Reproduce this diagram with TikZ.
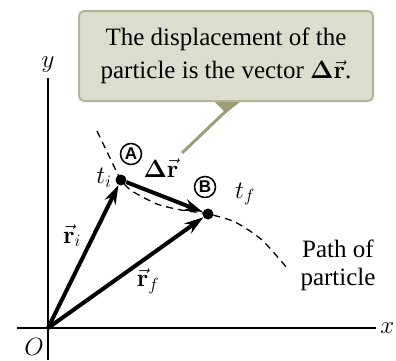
\documentclass[tikz,border=0pt]{standalone}
\usepackage{fix-cm}
\usepackage{amsmath}
\usepackage[no-math]{fontspec}
\setmainfont{Liberation Serif}
\setsansfont{Liberation Sans}
\usetikzlibrary{arrows.meta, positioning, calc}

\definecolor{notefill}{RGB}{221,221,205}
\definecolor{noteedge}{RGB}{180,180,152}
\definecolor{noteptr}{RGB}{158,158,118}

\tikzset{
    axis/.style={line width=2pt},
    vec/.style={line width=4pt, -{Stealth[length=19pt, width=12pt]}},
    dot/.style={circle, fill, inner sep=0pt, minimum size=11pt},
    posmark/.style={circle, draw, line width=1.5pt, inner sep=0pt, minimum size=21pt, font=\sffamily\bfseries\fontsize{17}{17}\selectfont},
    notebox/.style={draw=noteedge, line width=2pt, fill=notefill, rounded corners=5pt, minimum width=294pt, minimum height=90pt, align=center}
}

\begin{document}
\begin{tikzpicture}[x=1pt, y=-1pt, font=\fontsize{25}{33}\selectfont]
    \useasboundingbox (0,0) rectangle (396,360);

    % axes
    \coordinate (O) at (48,328);
    \draw[axis] (48,360) -- (48,78) node[above=1pt] {$y$};
    \draw[axis] (17,328) -- (376,328) node[right=0pt] {$x$};
    \node at (34,347) {$O$};

    % path of the particle
    \draw[dashed, line width=1.3pt, dash pattern=on 7pt off 5pt]
        plot[smooth, tension=0.45] coordinates {(97,131) (110,158) (121,180) (132,191) (157,204) (181,210) (208,214) (235,222) (262,240) (287,268)};
    \node[align=center, font=\fontsize{25}{28}\selectfont] at (338,265) {Path of\\particle};

    % points
    \node[dot] (A) at (121,180) {};
    \node[dot] (B) at (208,214) {};
    \node[posmark] at (131,154) {A};
    \node[posmark] at (205,187) {B};
    \node at (104,178) {$t_i$};
    \node at (245,194) {$t_f$};

    % vectors
    \draw[vec] (O) -- (A);
    \draw[vec] (O) -- (B);
    \draw[vec] (A) -- (B);
    \node at (72,236) {$\vec{\mathbf r}_i$};
    \node at (148,281) {$\vec{\mathbf r}_f$};
    \node at (161,168) {$\mathbf{\Delta}\vec{\mathbf r}$};

    % callout
    \node[notebox] (note) at (226,56) {The displacement of the\\particle is the vector $\mathbf{\Delta}\vec{\mathbf r}$.};
    \coordinate (tip) at (182,153);
    \fill[noteptr] ($(note.south)+(-11,0)$) -- ($(note.south)+(14,0)$) -- (226,113) -- cycle;
    \draw[noteptr, line width=3pt] (226,111) -- (tip);
\end{tikzpicture}
\end{document}
